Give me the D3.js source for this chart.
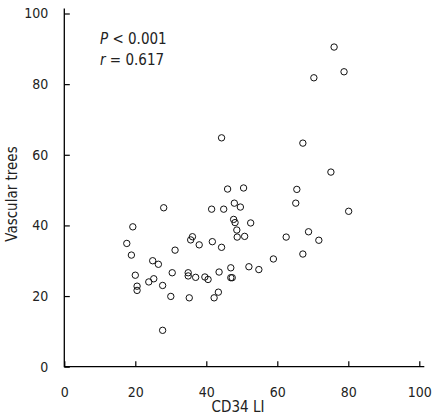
<!DOCTYPE html>
<html>
<head>
<meta charset="utf-8">
<script src="https://cdn.jsdelivr.net/npm/d3@7"></script>
<style>
  body { margin: 0; background: #fff; }
  text { font-family: "DejaVu Sans Condensed", "DejaVu Sans", sans-serif; fill: #222; }
</style>
</head>
<body>
<div id="chart"></div>
<script>
// CD34 labelling index (x) vs number of vascular trees (y)
const cd34 = [17.6, 18.9, 19.3, 20.0, 20.5, 20.5, 23.8, 25.2, 24.9, 26.5,
              27.7, 27.7, 28.0, 30.0, 30.4, 31.2, 34.9, 34.9, 35.2, 35.6,
              36.1, 37.0, 38.0, 39.6, 40.5, 41.5, 41.7, 42.2, 43.4, 43.6,
              44.3, 44.3, 44.9, 46.0, 46.9, 46.9, 47.3, 47.7, 47.9, 48.1,
              48.6, 48.7, 49.6, 50.5, 50.8, 52.0, 52.5, 54.8, 58.9, 62.5,
              65.2, 65.5, 67.2, 67.2, 68.8, 70.3, 71.7, 75.1, 76.0, 78.8, 80.1];
const trees = [34.9, 31.6, 39.6, 25.9, 22.8, 21.6, 24.0, 24.9, 30.0, 29.0,
               23.0, 10.3, 45.0, 19.9, 26.6, 33.0, 26.6, 25.7, 19.5, 35.9,
               36.8, 25.3, 34.5, 25.4, 24.7, 44.6, 35.4, 19.5, 21.1, 26.8,
               33.8, 64.8, 44.6, 50.3, 28.0, 25.2, 25.2, 41.7, 46.3, 40.8,
               38.7, 36.7, 45.2, 50.6, 36.9, 28.3, 40.7, 27.5, 30.5, 36.7,
               46.3, 50.2, 31.9, 63.3, 38.2, 81.8, 35.8, 55.1, 90.5, 83.5, 44.0];
const xTicks = [0, 20, 40, 60, 80, 100];
const yTicks = [0, 20, 40, 60, 80, 100];
const statLines = ["P", " < 0.001", "r", " = 0.617"];

const width = 437, height = 418;
const margin = {top: 13.5, right: 17.7, bottom: 51.3, left: 64.3};

const svg = d3.select("#chart")
  .append("svg")
  .attr("width", width)
  .attr("height", height);

const xScale = d3.scaleLinear()
  .domain([0, 100])
  .range([margin.left, width - margin.right]);

const yScale = d3.scaleLinear()
  .domain([0, 100])
  .range([height - margin.bottom, margin.top]);

// x axis, ticks pointing inward
const xAxis = svg.append("g")
  .attr("transform", `translate(0,${yScale(0)})`)
  .call(d3.axisBottom(xScale).tickValues(xTicks).tickSizeInner(-5.5).tickSizeOuter(0).tickPadding(20));
xAxis.select(".domain").remove();
xAxis.selectAll("line").attr("stroke", "#000").attr("stroke-width", 1.2);
xAxis.selectAll("text").style("font-size", "14px").attr("fill", "#222");

// y axis, ticks pointing inward
const yAxis = svg.append("g")
  .attr("transform", `translate(${xScale(0)},0)`)
  .call(d3.axisLeft(yScale).tickValues(yTicks).tickSizeInner(-5.5).tickSizeOuter(0).tickPadding(16));
yAxis.select(".domain").remove();
yAxis.selectAll("line").attr("stroke", "#000").attr("stroke-width", 1.2);
yAxis.selectAll("text").style("font-size", "14px").attr("fill", "#222");

// axis lines run a few px past the last tick
svg.append("path")
  .attr("d", d3.line()([[xScale(0), yScale(100) - 5], [xScale(0), yScale(0)], [xScale(100) + 5, yScale(0)]]))
  .attr("fill", "none")
  .attr("stroke", "#000")
  .attr("stroke-width", 1.3);

// points
svg.selectAll(".dot")
  .data(cd34.map((d, i) => ({x: d, y: trees[i]})))
  .enter()
  .append("circle")
  .attr("class", "dot")
  .attr("cx", d => xScale(d.x))
  .attr("cy", d => yScale(d.y))
  .attr("r", 3.2)
  .attr("fill", "none")
  .attr("stroke", "#111")
  .attr("stroke-width", 1);

// axis titles
svg.append("text")
  .attr("x", 238)
  .attr("y", 411.5)
  .attr("text-anchor", "middle")
  .style("font-size", "15px")
  .text("CD34 LI");

svg.append("text")
  .attr("transform", "translate(17,194) rotate(-90)")
  .attr("text-anchor", "middle")
  .style("font-size", "15px")
  .text("Vascular trees");

// statistics
const stat = svg.append("g").style("font-size", "15px");
[[statLines[0], statLines[1], 44.3], [statLines[2], statLines[3], 65]].forEach(([v, rest, y]) => {
  const t = stat.append("text").attr("x", 100).attr("y", y).attr("xml:space", "preserve");
  t.append("tspan").style("font-style", "italic").text(v);
  t.append("tspan").text(rest);
});
</script>
</body>
</html>
